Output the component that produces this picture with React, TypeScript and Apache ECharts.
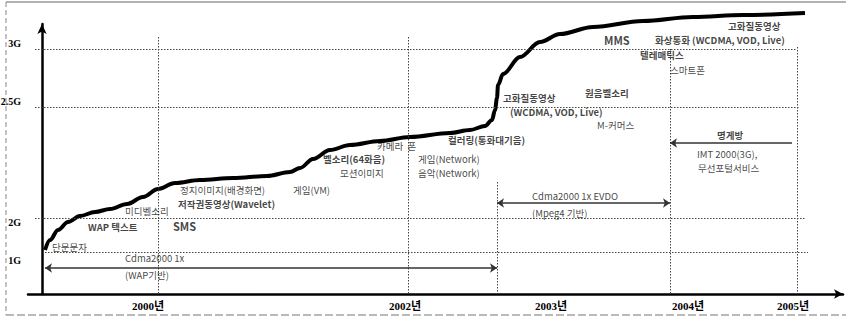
import React, { useEffect, useRef } from 'react';
import * as echarts from 'echarts';

// x: schematic timeline units (0 = vertical axis), y: schematic generation units (0 = time axis)
const yearTicks = [106, 363, 509, 646, 751];
const yearLabels = ['2000년', '2002년', '2003년', '2004년', '2005년'];
const genTicks = [251, 193, 72, 34];
const genLabels = ['3G', '2.5G', '2G', '1G'];

// [xFrom, xTo, y] generation levels
const levelLines = [
  [-7, 755, 245],
  [-7, 758, 187],
  [-7, 763, 76],
  [3, 766, 42],
];
// [x, yTop] year markers
const yearLines = [
  [116, 257],
  [366, 257],
  [455, 112],
  [628, 245],
  [755, 247],
];

const curve = [
  [3, 44], [8, 54], [16, 64], [26, 72], [38, 78], [53, 82], [68, 85], [85, 90],
  [101, 97], [116, 105], [133, 111], [158, 114], [191, 116], [225, 118], [248, 122],
  [258, 126], [271, 135], [288, 144], [308, 149], [338, 153], [368, 157], [408, 161],
  [428, 164], [443, 168], [450, 174], [453, 184], [455, 196], [456, 209], [461, 220],
  [478, 237], [498, 252], [518, 260], [551, 267], [601, 273], [651, 277], [701, 279],
  [763, 281],
];

// [xFrom, xTo, y, arrowAtStart, arrowAtEnd]
const spans = [
  [3, 455, 26, 1, 1],
  [455, 628, 91, 1, 1],
  [750, 628, 151, 0, 1],
];

// [text, x, y]
const plainNotes = [
  ['단문문자', 10, 47],
  ['미디벨소리', 83, 83],
  ['정지이미지(배경화면)', 138, 104],
  ['게임(VM)', 251, 104],
  ['모션이미지', 298, 121],
  ['카메라  폰', 335, 148],
  ['게임(Network)', 376, 135],
  ['음악(Network)', 376, 121],
  ['M-커머스', 555, 169],
  ['스마트폰', 628, 224],
  ['IMT 2000(3G),', 655, 140],
  ['무선포털서비스', 656, 126],
  ['Cdma2000 1x', 83, 36],
  ['(WAP기반)', 83, 19],
  ['Cdma2000 1x EVDO', 490, 98],
  ['(Mpeg4 기반)', 490, 81],
];
const boldNotes = [
  ['WAP 텍스트', 46, 67],
  ['저작권동영상(Wavelet)', 136, 90],
  ['벨소리(64화음)', 281, 135],
  ['컬러링(통화대기음)', 406, 154],
  ['고화질동영상', 461, 196],
  ['(WCDMA, VOD, Live)', 468, 182],
  ['원음벨소리', 543, 201],
  ['화상통화 (WCDMA, VOD, Live)', 613, 254],
  ['고화질동영상', 686, 268],
  ['텔레매틱스', 598, 239],
  ['명게방', 675, 159],
];
const headlineNotes = [
  ['SMS', 131, 68],
  ['MMS', 562, 254],
];

const FONT = "'Noto Sans CJK KR', sans-serif";
const SERIF = "'Liberation Serif', 'Noto Sans CJK KR', serif";

function noteSeries(notes: any[], bold: boolean, size: number) {
  return {
    type: 'scatter',
    silent: true,
    symbolSize: 0,
    clip: false,
    z: 5,
    data: notes.map((n) => ({ name: n[0], value: [n[1], n[2]] })),
    label: {
      show: true,
      position: 'right',
      distance: 0,
      formatter: '{b}',
      color: '#111',
      fontSize: size,
      lineHeight: 10,
      fontFamily: FONT,
      fontWeight: bold ? 'bold' : 'normal',
    },
  };
}

export default function App() {
  const ref = useRef<HTMLDivElement>(null);
  useEffect(() => {
    if (!ref.current) return;
    const chart = echarts.init(ref.current, null, { renderer: 'svg' });
    const dotted = { color: '#444', width: 1, type: [1.5, 1.5] };
    chart.setOption({
      animation: false,
      backgroundColor: '#fff',
      grid: { left: 28, right: 3, top: 24, bottom: 24, outerBoundsMode: 'none' },
      xAxis: {
        type: 'value',
        min: -14,
        max: 801,
        axisLine: {
          show: true,
          onZero: true,
          symbol: ['none', 'arrow'],
          symbolSize: [7, 9],
          lineStyle: { color: '#000', width: 2.5 },
        },
        axisTick: { show: false },
        splitLine: { show: false },
        axisLabel: {
          customValues: yearTicks,
          formatter: (v: number) => yearLabels[yearTicks.indexOf(v)] ?? '',
          color: '#000',
          fontSize: 11,
          fontWeight: 'bold',
          fontFamily: SERIF,
          margin: 6,
        },
      },
      yAxis: {
        type: 'value',
        min: 0,
        max: 270,
        axisLine: {
          show: true,
          onZero: true,
          symbol: ['none', 'arrow'],
          symbolSize: [7, 10],
          lineStyle: { color: '#000', width: 2.5 },
        },
        axisTick: { show: false },
        splitLine: { show: false },
        axisLabel: {
          customValues: genTicks,
          formatter: (v: number) => genLabels[genTicks.indexOf(v)] ?? '',
          color: '#000',
          fontSize: 10,
          fontWeight: 'bold',
          fontFamily: SERIF,
          margin: 7,
        },
      },
      series: [
        {
          type: 'line',
          name: 'guides',
          data: [],
          silent: true,
          z: 1,
          markLine: {
            silent: true,
            symbol: 'none',
            label: { show: false },
            lineStyle: dotted,
            data: [
              ...levelLines.map((l) => [{ coord: [l[0], l[2]] }, { coord: [l[1], l[2]] }]),
              ...yearLines.map((l) => [{ coord: [l[0], l[1]] }, { coord: [l[0], 0] }]),
            ],
          },
        },
        {
          type: 'line',
          name: 'spans',
          data: [],
          silent: true,
          z: 2,
          markLine: {
            silent: true,
            symbolSize: 7,
            label: { show: false },
            lineStyle: { color: '#333', width: 1.5, type: 'solid' },
            data: spans.map((s) => [
              { coord: [s[0], s[2]], symbol: s[3] ? 'arrow' : 'none' },
              { coord: [s[1], s[2]], symbol: s[4] ? 'arrow' : 'none' },
            ]),
          },
        },
        {
          type: 'line',
          name: 'evolution',
          data: curve,
          smooth: 0.35,
          smoothMonotone: 'x',
          showSymbol: false,
          clip: false,
          silent: true,
          z: 3,
          lineStyle: { color: '#000', width: 4 },
        },
        noteSeries(plainNotes, false, 9.5),
        noteSeries(boldNotes, true, 9.5),
        noteSeries(headlineNotes, true, 11),
      ],
      graphic: [
        { type: 'line', silent: true, shape: { x1: 6, y1: 2, x2: 846, y2: 2 }, style: { stroke: '#666', lineWidth: 1 } },
        { type: 'line', silent: true, shape: { x1: 6, y1: 2, x2: 6, y2: 315 }, style: { stroke: '#888', lineWidth: 1, lineDash: [5, 3] } },
        { type: 'line', silent: true, shape: { x1: 6, y1: 315, x2: 846, y2: 315 }, style: { stroke: '#777', lineWidth: 1, lineDash: [8, 3] } },
      ],
    });
    return () => chart.dispose();
  }, []);
  return (
    <div
      ref={ref}
      style={{ position: 'fixed', left: 0, top: 0, width: 846, height: 318, background: '#fff' }}
    />
  );
}
